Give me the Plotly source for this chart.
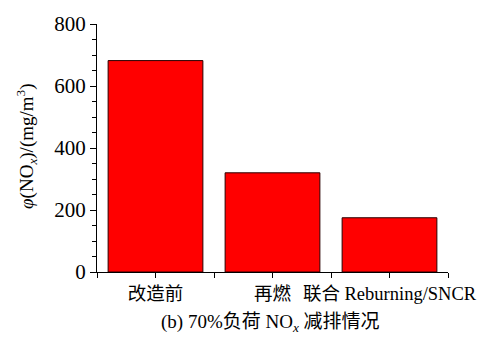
import plotly.graph_objects as go

# NOx emissions at 70% load for each operating scheme
categories = ["改造前", "再燃", "联合 Reburning/SNCR"]
nox_values = [682, 320, 175]

y_tick_vals = [0, 200, 400, 600, 800]
y_tick_text = ["0", "200", "400", "600", "800"]

serif = "Liberation Serif, Times New Roman, Noto Sans CJK SC, serif"

x_pos = list(range(len(categories)))

fig = go.Figure(
    go.Bar(
        x=x_pos,
        y=nox_values,
        width=0.81,
        marker=dict(color="#ff0000", line=dict(color="#2a0000", width=1)),
    )
)

# category ticks at bar centres plus plain ticks between bars
tickvals, ticktext = [], []
for i, name in enumerate(categories):
    tickvals += [i - 0.5, i]
    ticktext += ["", name]
tickvals.append(len(categories) - 0.5)
ticktext.append("")

fig.update_layout(
    width=498,
    height=340,
    margin=dict(l=97, r=50, t=15, b=68),
    plot_bgcolor="white",
    paper_bgcolor="white",
    showlegend=False,
    font=dict(family=serif, size=19, color="black"),
    xaxis=dict(
        range=[-0.5, len(categories) - 0.5],
        tickvals=tickvals,
        ticktext=ticktext,
        ticks="outside",
        ticklen=5,
        tickwidth=1,
        tickcolor="black",
        showline=True,
        linecolor="black",
        linewidth=1,
        showgrid=False,
        zeroline=False,
        tickfont=dict(size=18.5),
    ),
    yaxis=dict(
        range=[0, 800],
        tickvals=y_tick_vals,
        ticktext=y_tick_text,
        ticks="outside",
        ticklen=6,
        tickwidth=1,
        tickcolor="black",
        minor=dict(dtick=50, ticks="outside", ticklen=4, tickcolor="black", tickwidth=1),
        showline=True,
        linecolor="black",
        linewidth=1,
        showgrid=False,
        zeroline=False,
        tickfont=dict(size=21),
    ),
    annotations=[
        dict(
            text="<i>φ</i>(NO<sub><i>x</i></sub>)/(mg/m<sup>3</sup>)",
            xref="paper", yref="paper",
            x=-0.199, y=0.505,
            xanchor="center", yanchor="middle",
            textangle=-90,
            showarrow=False,
            font=dict(size=19),
        ),
        dict(
            text="(b) 70%负荷 NO<sub><i>x</i></sub> 减排情况",
            xref="paper", yref="paper",
            x=0.494, y=-0.207,
            xanchor="center", yanchor="middle",
            showarrow=False,
            font=dict(size=19),
        ),
    ],
)

fig.write_html("out.html")
